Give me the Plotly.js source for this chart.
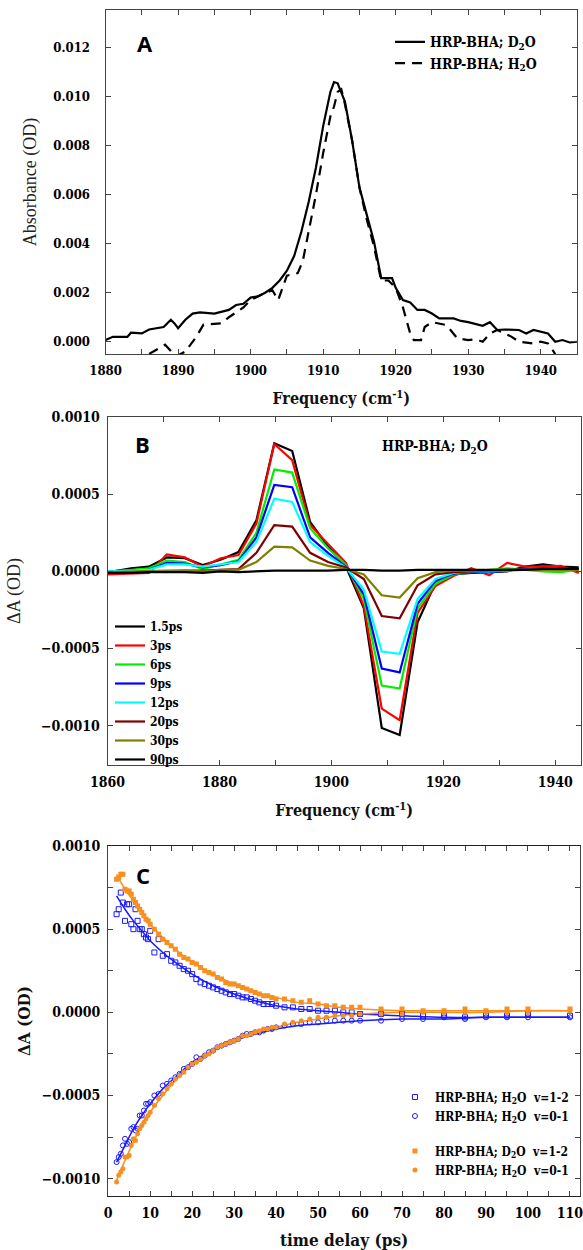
<!DOCTYPE html>
<html><head><meta charset="utf-8">
<script src="https://cdn.plot.ly/plotly-3.0.1.min.js"></script>
<style>html,body{margin:0;padding:0;background:#fff;overflow:hidden;width:583px;height:1250px}#chart{width:583px;height:1250px;overflow:hidden}#chart svg{overflow:hidden}</style>
</head><body><div id="chart"></div>
<script>
// ---------- Panel A: FTIR absorbance ----------
const freqA_D2O = [1880,1881,1883,1883.5,1885,1886,1888,1889,1889.5,1890,1891,1892,1893,1895,1897,1898,1899,1900,1901,1902,1903,1904,1905,1906,1907,1908,1909,1910,1911,1911.5,1912,1913,1914,1915,1916,1917,1918,1919,1919.5,1920,1921,1922,1923,1924,1925,1926,1928,1929,1930,1932,1933,1934,1935,1937,1938,1939,1940,1941,1942,1943,1944,1945];
const absA_D2O = [0.00007,0.0002,0.0002,0.00037,0.00034,0.0005,0.0006,0.0009,0.00075,0.00055,0.0009,0.00115,0.0012,0.00115,0.0013,0.0015,0.00155,0.0018,0.00185,0.002,0.0022,0.0025,0.0029,0.0035,0.0045,0.0057,0.0071,0.0088,0.0102,0.0106,0.01055,0.0098,0.0082,0.0063,0.0052,0.0041,0.0026,0.0026,0.0026,0.0022,0.0017,0.0016,0.0013,0.0013,0.00115,0.00095,0.00095,0.00085,0.0008,0.00065,0.0008,0.00048,0.0005,0.00048,0.00034,0.00048,0.0004,0.00034,0.0,0.00007,-0.00003,0.0];
const freqA_H2O = [1886,1888.2,1889.7,1891,1892.5,1893.5,1896,1897,1898,1899,1900,1901,1902,1903,1903.8,1905,1906.5,1907.2,1908,1909,1910,1911,1911.5,1912,1912.5,1913,1914,1915,1916,1917,1918,1919,1920,1921,1922,1922.5,1923.5,1924,1925,1927,1928.5,1930,1931,1932,1933,1934,1936,1937,1939,1940,1941,1942];
const absA_H2O = [-0.0005,-0.00012,-0.0006,-0.0004,0.0002,0.0007,0.00075,0.001,0.0012,0.0014,0.0017,0.00185,0.002,0.0021,0.0017,0.0027,0.0028,0.0033,0.0045,0.006,0.0077,0.0092,0.0096,0.0102,0.0103,0.0097,0.0082,0.0063,0.005,0.0039,0.0025,0.0025,0.0022,0.0014,0.00034,0.00007,0.00007,0.0006,0.0008,0.00068,0.00014,0.00007,0.0001,0.0,0.00034,0.00048,0.0002,0.0,-0.00007,0.0,-0.00007,-0.0005];
const namesA = ['HRP-BHA; D<sub>2</sub>O', 'HRP-BHA; H<sub>2</sub>O'];

// ---------- Panel B: transient spectra ----------
const freqB = [1860,1864.2,1867.4,1870.6,1873.8,1877.0,1880.2,1883.4,1886.6,1889.8,1893.0,1896.2,1899.4,1902.6,1905.8,1909.0,1912.2,1915.4,1918.6,1921.8,1925.0,1928.2,1931.4,1934.6,1937.8,1941.0,1944.2];
const delaysB = ['1.5ps','3ps','6ps','9ps','12ps','20ps','30ps','90ps'];
const dA_1p5ps = [-0.000006,0.00002,0.00003,0.00009,0.000085,0.00004,0.000075,0.000125,0.00033,0.00083,0.00078,0.00032,0.00016,0.00003,-0.00024,-0.001015,-0.00106,-0.00033,-0.000075,-0.00002,-0.00001,-0.000005,0,0.00003,0.000045,0.00003,0.000025];
const dA_3ps = [-0.00002,-0.000015,-0.00001,0.00011,0.00009,0.00003,0.000085,0.000105,0.00031,0.000825,0.00072,0.0003,0.00018,0.000055,-0.000225,-0.00089,-0.000965,-0.00027,-0.000095,-0.00003,0.00002,-0.000025,0.000055,0.00003,0.00003,0.000035,-0.00001];
const dA_6ps = [-0.000005,0.00001,0.00002,0.00007,0.00006,0.000015,0.000045,0.000075,0.00025,0.00066,0.00064,0.00028,0.00015,0.00004,-0.00018,-0.00074,-0.00076,-0.00024,-0.00008,-0.00002,-0.000005,0.00001,0.00002,0.00001,0,-0.000005,0.00001];
const dA_9ps = [0,0.000005,0.00001,0.000055,0.00005,0.000025,0.00004,0.000065,0.00022,0.00056,0.000545,0.00022,0.00012,0.00003,-0.00015,-0.00063,-0.000655,-0.00021,-0.00006,-0.000015,-0.000005,-0.000005,0.000005,0.000015,0.00002,0.00002,0.000015];
const dA_12ps = [0,0.000005,0.00001,0.000045,0.000045,0.00003,0.000045,0.00006,0.00019,0.00047,0.00045,0.00019,0.0001,0.000025,-0.00012,-0.00052,-0.000535,-0.00018,-0.00005,-0.00001,0,0,0.000005,0.00001,0.000015,0.000015,0.000015];
const dA_20ps = [-0.00001,-0.000005,0,0.000005,0.000005,0.000005,0.00001,0.000015,0.00012,0.0003,0.00029,0.00012,0.00006,0.000025,-0.00005,-0.00029,-0.000305,-0.00009,-0.00002,-0.000005,0,0.000005,0.00001,0.00001,0.00001,0.00001,0.000015];
const dA_30ps = [-0.000005,0,0,0.000005,0.000005,0,0.00001,0.00001,0.00006,0.00016,0.000155,0.00007,0.000035,0.000015,-0.00002,-0.000155,-0.00017,-0.000045,-0.000005,0.000005,0.000005,0.000005,0.000005,0.00001,0.00001,0.00001,0.00001];
const dA_90ps = [-0.00001,-0.00001,-0.000005,-0.000005,-0.000005,-0.00001,0,-0.000005,0,0.000005,0.000005,0.000005,0.000005,0.00001,0.00001,0.000005,0.000005,0.00001,0.00001,0.00001,0.00001,0.00001,0.00001,0.00001,0.000015,0.000015,0.000015];
const colorsB = ['#000000','#ff0000','#00ee00','#0000ff','#00ffff','#800000','#808000','#000000'];

// ---------- Panel C: kinetics ----------
const tC = [2,2.5,3,3.5,4,4.5,5,5.5,6,6.5,7,7.5,8,8.5,9,9.5,10,11,12,13,14,15,16,17,18,19,20,21,22,23,24,25,26,27,28,29,30,31,32,33,34,35,36,37,38,39,40,42,44,46,48,50,52,54,56,58,60,65,70,75,80,85,90,95,100,110];
const h2o_v12 = [0.00059,0.00062,0.00072,0.00066,0.00055,0.00065,0.00065,0.00053,0.0005,0.00062,0.00055,0.0005,0.0005,0.00047,0.00045,0.00044,0.00049,0.00036,0.00044,0.00034,0.00035,0.00031,0.0003,0.00028,0.00026,0.00025,0.00023,0.0002,0.00018,0.00017,0.00016,0.00015,0.00014,0.00013,0.00012,0.00011,0.00011,0.0001,0.00009,0.00009,0.00008,0.00007,0.00006,0.00005,0.00005,0.00005,0.00004,0.00003,0.00003,0.00002,0.00002,0.00001,0.00001,0.00001,0,0,-0.00001,-0.00001,-0.00001,-0.00002,-0.00002,-0.00003,-0.00002,-0.00002,-0.00001,-0.00002];
const h2o_v01 = [-0.0009,-0.00087,-0.00085,-0.0008,-0.00076,-0.00079,-0.00078,-0.0007,-0.00069,-0.00071,-0.0007,-0.00062,-0.00062,-0.00059,-0.00055,-0.00055,-0.00054,-0.0005,-0.00049,-0.00044,-0.00043,-0.00041,-0.00039,-0.00037,-0.00034,-0.00033,-0.00031,-0.00027,-0.00028,-0.00026,-0.00024,-0.00023,-0.00021,-0.0002,-0.00019,-0.00018,-0.00017,-0.00016,-0.00014,-0.00013,-0.00013,-0.00012,-0.00012,-0.00011,-0.0001,-0.0001,-0.00009,-0.00008,-0.00007,-0.00007,-0.00006,-0.00006,-0.00005,-0.00005,-0.00005,-0.00005,-0.00005,-0.00005,-0.00004,-0.00004,-0.00003,-0.00004,-0.00003,-0.00003,-0.00003,-0.00003];
const d2o_v12 = [0.0008,0.00081,0.00083,0.00083,0.00074,0.00073,0.00073,0.00071,0.00068,0.00066,0.00064,0.00062,0.0006,0.00058,0.00056,0.00055,0.00053,0.0005,0.00047,0.00044,0.00042,0.0004,0.00038,0.00035,0.00033,0.00032,0.0003,0.00029,0.00027,0.00025,0.00024,0.00023,0.00021,0.0002,0.00018,0.00017,0.00017,0.00016,0.00015,0.00014,0.00013,0.00012,0.00011,0.0001,0.0001,0.00009,0.00008,0.00008,0.00007,0.00006,0.00007,0.00005,0.00004,0.00004,0.00003,0.00003,0.00003,0.00002,0.00002,0.00001,0.00001,0.00002,0.00001,0.00002,0.00002,0.00002];
const d2o_v01 = [-0.00102,-0.00098,-0.00096,-0.00094,-0.00087,-0.00087,-0.00086,-0.0008,-0.00076,-0.00077,-0.00073,-0.0007,-0.00068,-0.00066,-0.00064,-0.00062,-0.0006,-0.00056,-0.00052,-0.00049,-0.00046,-0.00043,-0.0004,-0.00038,-0.00036,-0.00033,-0.00031,-0.0003,-0.00028,-0.00026,-0.00025,-0.00023,-0.00021,-0.0002,-0.00019,-0.00018,-0.00017,-0.00016,-0.00014,-0.00014,-0.00013,-0.00012,-0.00011,-0.0001,-0.0001,-0.00009,-0.00009,-0.00007,-0.00006,-0.00005,-0.00004,-0.00003,-0.00003,-0.00002,-0.00002,-0.00002,-0.00001,-0.00001,-0.00001,0,0,0,0,0,0,0.00001];
const tFit = [2,4,6,8,10,13,16,20,25,30,35,40,45,50,55,60,70,80,90,100,110];
const fit_h2o_v12 = [0.0007,0.00062,0.00055,0.00049,0.00043,0.00036,0.0003,0.00023,0.00016,0.00011,0.00007,0.00004,0.00002,0.00001,0,-0.00001,-0.00002,-0.00003,-0.00003,-0.00003,-0.00003];
const fit_h2o_v01 = [-0.0009,-0.0008,-0.0007,-0.00062,-0.00055,-0.00046,-0.00039,-0.0003,-0.00023,-0.00017,-0.00013,-0.0001,-0.00008,-0.00007,-0.00006,-0.00005,-0.00004,-0.00004,-0.00003,-0.00003,-0.00003];
const fit_d2o_v12 = [0.00083,0.00074,0.00067,0.0006,0.00053,0.00045,0.00038,0.0003,0.00023,0.00017,0.00012,0.00009,0.00006,0.00005,0.00003,0.00002,0.00001,0.00001,0.00001,0.00001,0.00001];
const fit_d2o_v01 = [-0.00101,-0.00089,-0.00078,-0.00068,-0.0006,-0.0005,-0.00041,-0.00031,-0.00023,-0.00017,-0.00012,-0.00009,-0.00006,-0.00004,-0.00002,-0.00001,0,0,0,0.00001,0.00001];
const namesC = ['HRP-BHA; H<sub>2</sub>O\u00a0 v=1-2','HRP-BHA; H<sub>2</sub>O\u00a0 v=0-1','HRP-BHA; D<sub>2</sub>O\u00a0 v=1-2','HRP-BHA; H<sub>2</sub>O\u00a0 v=0-1'];

// ---------- styling ----------
const SERIF = 'Liberation Serif';
const BSERIF = 'DejaVu Serif Condensed';
const SANS = 'Open Sans';
const BLUE = '#1a1aff';
const ORANGE = '#f7901e';
const tickFont = (s) => ({family: BSERIF, size: s, color: '#000', weight: 700});

const traces = [];
// Panel A
traces.push({x: freqA_D2O, y: absA_D2O, xaxis: 'x', yaxis: 'y', mode: 'lines', name: namesA[0], legend: 'legend',
  line: {color: '#000', width: 2.2}});
traces.push({x: freqA_H2O, y: absA_H2O, xaxis: 'x', yaxis: 'y', mode: 'lines', name: namesA[1], legend: 'legend',
  line: {color: '#000', width: 2.2, dash: '10px,7px'}});
// Panel B
const seriesB = [dA_1p5ps, dA_3ps, dA_6ps, dA_9ps, dA_12ps, dA_20ps, dA_30ps, dA_90ps];
seriesB.forEach((ys, i) => traces.push({x: freqB, y: ys, xaxis: 'x2', yaxis: 'y2', mode: 'lines', name: delaysB[i],
  legend: 'legend2', line: {color: colorsB[i], width: 2.2}}));
// Panel C fits
[[fit_h2o_v12, BLUE], [fit_h2o_v01, BLUE], [fit_d2o_v12, ORANGE], [fit_d2o_v01, ORANGE]].forEach(([ys, c]) =>
  traces.push({x: tFit, y: ys, xaxis: 'x3', yaxis: 'y3', mode: 'lines', showlegend: false, hoverinfo: 'skip',
    line: {color: c, width: 1.5, shape: 'spline'}}));
// Panel C data
traces.push({x: tC, y: h2o_v12, xaxis: 'x3', yaxis: 'y3', mode: 'markers', name: namesC[0], legend: 'legend3', legendgroup: 'h2o',
  marker: {symbol: 'square-open', size: 5, color: BLUE, line: {width: 1}}});
traces.push({x: tC, y: h2o_v01, xaxis: 'x3', yaxis: 'y3', mode: 'markers', name: namesC[1], legend: 'legend3', legendgroup: 'h2o',
  marker: {symbol: 'circle-open', size: 5, color: BLUE, line: {width: 1}}});
traces.push({x: tC, y: d2o_v12, xaxis: 'x3', yaxis: 'y3', mode: 'markers', name: namesC[2], legend: 'legend3', legendgroup: 'd2o',
  marker: {symbol: 'square', size: 5, color: ORANGE}});
traces.push({x: tC, y: d2o_v01, xaxis: 'x3', yaxis: 'y3', mode: 'markers', name: namesC[3], legend: 'legend3', legendgroup: 'd2o',
  marker: {symbol: 'circle', size: 5, color: ORANGE}});

function baseAxis(extra) {
  return Object.assign({showgrid: false, zeroline: false, showline: true, linecolor: '#444', linewidth: 1,
    mirror: 'allticks', ticks: 'inside', ticklen: 5, tickcolor: '#444', tickwidth: 1, automargin: false,
    ticklabeloverflow: 'allow'}, extra);
}

const layout = {
  width: 583, height: 1250,
  margin: {l: 0, r: 0, t: 0, b: 0},
  paper_bgcolor: '#fff', plot_bgcolor: '#fff',
  showlegend: true,
  xaxis: baseAxis({anchor: 'y', domain: [0.1811, 0.9897], range: [1880, 1945], tick0: 1880, dtick: 10,
    minor: {dtick: 5, ticks: 'inside', ticklen: 5, tickcolor: '#444'},
    tickfont: tickFont(13), ticklabelstandoff: 4,
    title: {text: 'Frequency (cm<sup>-1</sup>)', font: {family: BSERIF, size: 16, color: '#111', weight: 700}, standoff: 16}}),
  yaxis: baseAxis({anchor: 'x', domain: [0.7168, 0.992], range: [-0.0005, 0.01354], tick0: 0, dtick: 0.002, tickformat: '.3f',
    tickfont: tickFont(13), ticklabelstandoff: 12,
    title: {text: 'Absorbance (OD)', font: {family: SERIF, size: 18, color: '#222'}, standoff: 12}}),
  xaxis2: baseAxis({anchor: 'y2', domain: [0.1844, 0.9966], range: [1860, 1944.6], tick0: 1860, dtick: 20,
    minor: {dtick: 10, ticks: 'inside', ticklen: 5, tickcolor: '#444'},
    tickfont: tickFont(14), ticklabelstandoff: 4,
    title: {text: 'Frequency (cm<sup>-1</sup>)', font: {family: BSERIF, size: 16, color: '#111', weight: 700}, standoff: 16}}),
  yaxis2: baseAxis({anchor: 'x2', domain: [0.388, 0.6664], range: [-0.001255, 0.001], tick0: 0, dtick: 0.0005, tickformat: '.4f',
    tickfont: tickFont(14), ticklabelstandoff: 4,
    title: {text: 'ΔA (OD)', font: {family: SERIF, size: 18, color: '#222'}, standoff: 15}}),
  xaxis3: baseAxis({anchor: 'y3', domain: [0.1856, 0.9949], range: [0, 112.4], tick0: 0, dtick: 10, linecolor: '#222',
    minor: {dtick: 5, ticks: 'inside', ticklen: 5, tickcolor: '#444'},
    tickfont: tickFont(14), ticklabelstandoff: 4,
    title: {text: 'time delay (ps)', font: {family: BSERIF, size: 17, color: '#111', weight: 700}, standoff: 14}}),
  yaxis3: baseAxis({anchor: 'x3', domain: [0.0432, 0.3232], range: [-0.001104, 0.001], tick0: 0, dtick: 0.0005, tickformat: '.4f',
    minor: {dtick: 0.00025, ticks: 'inside', ticklen: 5, tickcolor: '#444'},
    tickfont: tickFont(14), ticklabelstandoff: 4,
    title: {text: 'ΔA (OD)', font: {family: BSERIF, size: 17, color: '#111', weight: 700}, standoff: 6}}),
  legend: {x: 0.669, y: 0.979, xanchor: 'left', yanchor: 'top', bgcolor: 'rgba(0,0,0,0)', borderwidth: 0,
    font: {family: BSERIF, size: 14, color: '#000', weight: 700}, itemwidth: 30, tracegroupgap: 0},
  legend2: {x: 0.1887, y: 0.5104, xanchor: 'left', yanchor: 'top', bgcolor: 'rgba(0,0,0,0)', borderwidth: 0,
    font: {family: BSERIF, size: 12, color: '#000', weight: 700}, itemwidth: 30, tracegroupgap: 0},
  legend3: {x: 0.6775, y: 0.134, xanchor: 'left', yanchor: 'top', bgcolor: 'rgba(0,0,0,0)', borderwidth: 0,
    font: {family: BSERIF, size: 12, color: '#000', weight: 700}, itemwidth: 30, traceorder: 'grouped', tracegroupgap: 16},
  annotations: [
    {text: 'A', xref: 'paper', yref: 'paper', x: 145/583, y: 1 - 43/1250, showarrow: false, xanchor: 'center', yanchor: 'middle',
      font: {family: SANS, size: 22, color: '#000', weight: 700}},
    {text: 'B', xref: 'paper', yref: 'paper', x: 142/583, y: 1 - 444/1250, showarrow: false, xanchor: 'center', yanchor: 'middle',
      font: {family: SANS, size: 22, color: '#000', weight: 700}},
    {text: 'C', xref: 'paper', yref: 'paper', x: 143/583, y: 1 - 875/1250, showarrow: false, xanchor: 'center', yanchor: 'middle',
      font: {family: SANS, size: 22, color: '#000', weight: 700}},
    {text: 'HRP-BHA; D<sub>2</sub>O', xref: 'paper', yref: 'paper', x: 435/583, y: 1 - 447/1250, showarrow: false,
      xanchor: 'center', yanchor: 'middle', font: {family: BSERIF, size: 14, color: '#000', weight: 700}}
  ]
};

Plotly.newPlot('chart', traces, layout, {displayModeBar: false, staticPlot: true});
</script>
</body></html>
